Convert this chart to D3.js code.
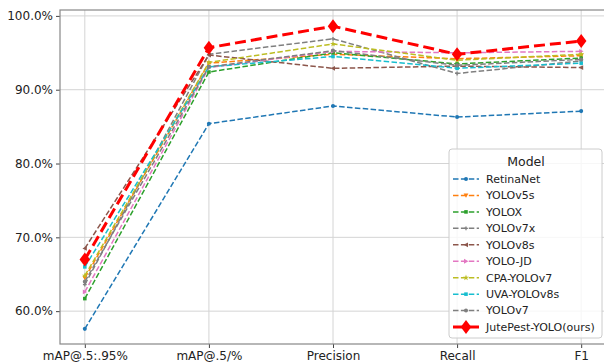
<!DOCTYPE html>
<html>
<head>
<meta charset="utf-8">
<script src="https://cdn.jsdelivr.net/npm/d3@7"></script>
<style>
  body { margin: 0; background: #fff; }
  svg { font-family: "DejaVu Sans", sans-serif; }
</style>
</head>
<body>
<svg id="chart"></svg>
<script>
var metrics = ["mAP@.5:.95%", "mAP@.5/%", "Precision", "Recall", "F1"]
var yTicks = [60, 70, 80, 90, 100]

var retinaNet  = [57.6, 85.4, 87.8, 86.3, 87.1]
var yolov5s    = [64.5, 93.6, 94.8, 94.2, 94.6]
var yolox      = [61.7, 92.4, 95.0, 93.5, 94.3]
var yolov7x    = [63.6, 94.8, 96.9, 92.2, 93.9]
var yolov8s    = [68.5, 94.7, 92.9, 93.2, 93.0]
var yoloJD     = [62.6, 93.0, 95.2, 95.0, 95.2]
var cpaYolov7  = [64.8, 93.7, 96.2, 94.0, 94.8]
var uvaYolov8s = [66.0, 93.1, 94.5, 92.9, 93.6]
var yolov7     = [64.0, 93.1, 95.3, 93.3, 94.1]
var jutePest   = [67.0, 95.7, 98.6, 94.8, 96.6]

var series = [
    {name: "RetinaNet", values: retinaNet, color: "#1f77b4", marker: "circle"},
    {name: "YOLOv5s", values: yolov5s, color: "#ff7f0e", marker: "triDown"},
    {name: "YOLOX", values: yolox, color: "#2ca02c", marker: "square"},
    {name: "YOLOv7x", values: yolov7x, color: "#7f7f7f", marker: "plus"},
    {name: "YOLOv8s", values: yolov8s, color: "#8c564b", marker: "triLeft"},
    {name: "YOLO-JD", values: yoloJD, color: "#e377c2", marker: "triRight"},
    {name: "CPA-YOLOv7", values: cpaYolov7, color: "#bcbd22", marker: "star"},
    {name: "UVA-YOLOv8s", values: uvaYolov8s, color: "#17becf", marker: "square"},
    {name: "YOLOv7", values: yolov7, color: "#7f7f7f", marker: "circle"},
    {name: "JutePest-YOLO(ours)", values: jutePest, color: "#ff0000", marker: "diamond", bold: true}
]

var dimensions = {
    width: 604,
    height: 363,
    margin: {top: 10, bottom: 19, left: 60, right: -2}
}

var svg = d3.select("#chart")
    .attr("width", dimensions.width)
    .attr("height", dimensions.height)

var plotW = dimensions.width - dimensions.margin.left - dimensions.margin.right
var xScale = d3.scaleLinear()
    .domain([-0.2, metrics.length - 1 + 0.2])
    .range([dimensions.margin.left, dimensions.width - dimensions.margin.right])
var yScale = d3.scaleLinear()
    .domain([55.55, 100.8])
    .range([dimensions.height - dimensions.margin.bottom, dimensions.margin.top])

// grid
var grid = svg.append("g")
grid.selectAll(".gx").data(metrics).enter().append("line")
    .attr("x1", (d, i) => xScale(i)).attr("x2", (d, i) => xScale(i))
    .attr("y1", yScale.range()[0]).attr("y2", yScale.range()[1])
    .attr("stroke", "#d4d4d4").attr("stroke-width", 1)
grid.selectAll(".gy").data(yTicks).enter().append("line")
    .attr("x1", xScale.range()[0]).attr("x2", xScale.range()[1])
    .attr("y1", d => yScale(d)).attr("y2", d => yScale(d))
    .attr("stroke", "#d4d4d4").attr("stroke-width", 1)

// axes
var xAxisGen = d3.axisBottom(xScale)
    .tickValues(d3.range(metrics.length))
    .tickFormat(i => metrics[i])
    .tickSize(4).tickPadding(3)
var xAxis = svg.append("g")
    .attr("transform", `translate(0, ${yScale.range()[0]})`)
    .call(xAxisGen)
var yAxisGen = d3.axisLeft(yScale)
    .tickValues(yTicks)
    .tickFormat(d => d.toFixed(1) + "%")
    .tickSize(4).tickPadding(3)
var yAxis = svg.append("g")
    .attr("transform", `translate(${dimensions.margin.left}, 0)`)
    .call(yAxisGen)
svg.selectAll(".domain").remove()
svg.selectAll(".tick line").attr("stroke", "#444")
svg.selectAll(".tick text").attr("font-size", 12).attr("fill", "#222")
    .attr("font-family", "DejaVu Sans")

svg.append("rect")
    .attr("x", xScale.range()[0]).attr("y", yScale.range()[1])
    .attr("width", xScale.range()[1] - xScale.range()[0])
    .attr("height", yScale.range()[0] - yScale.range()[1])
    .attr("fill", "none").attr("stroke", "#888").attr("stroke-width", 1.2)

function markerPath(type, size) {
    var s = size
    if (type === "circle") return d3.symbol(d3.symbolCircle, s * s * 0.8)()
    if (type === "square") return d3.symbol(d3.symbolSquare, s * s * 0.8)()
    if (type === "diamond") return `M0,${-s}L${s * 0.75},0L0,${s}L${-s * 0.75},0Z`
    if (type === "triDown") return `M${-s * 0.6},${-s * 0.5}L${s * 0.6},${-s * 0.5}L0,${s * 0.6}Z`
    if (type === "triLeft") return `M${s * 0.5},${-s * 0.6}L${s * 0.5},${s * 0.6}L${-s * 0.6},0Z`
    if (type === "triRight") return `M${-s * 0.5},${-s * 0.6}L${-s * 0.5},${s * 0.6}L${s * 0.6},0Z`
    if (type === "star") return d3.symbol(d3.symbolStar, s * s * 0.7)()
    if (type === "plus") return d3.symbol(d3.symbolCross, s * s * 0.5)()
    return d3.symbol(d3.symbolCircle, s * s)()
}

var lineGen = d3.line()
    .x((d, i) => xScale(i))
    .y(d => yScale(d))

var drawOrder = series.slice()
var lines = svg.append("g")
drawOrder.forEach(s => {
    var g = lines.append("g")
    g.append("path")
        .datum(s.values)
        .attr("d", lineGen)
        .attr("fill", "none")
        .attr("stroke", s.color)
        .attr("stroke-width", s.bold ? 3 : 1.5)
        .attr("stroke-dasharray", s.bold ? "11,5" : "5.5,2.4")
    g.selectAll("path.m").data(s.values).enter().append("path")
        .attr("class", "m")
        .attr("transform", (d, i) => `translate(${xScale(i)},${yScale(d)})`)
        .attr("d", markerPath(s.marker, s.bold ? 7 : 4))
        .attr("fill", s.color)
})

// legend
var legend = svg.append("g").attr("transform", "translate(449, 149)")
legend.append("rect")
    .attr("width", 153).attr("height", 189)
    .attr("rx", 3)
    .attr("fill", "rgba(255,255,255,0.8)")
    .attr("stroke", "#ccc")
legend.append("text")
    .attr("x", 77).attr("y", 17)
    .attr("text-anchor", "middle")
    .attr("font-size", 12.5)
    .attr("fill", "#222")
    .text("Model")
var rows = legend.selectAll(".row").data(series).enter().append("g")
    .attr("transform", (d, i) => `translate(0, ${30 + i * 16.45})`)
rows.append("line")
    .attr("x1", 4).attr("x2", 30)
    .attr("stroke", d => d.color)
    .attr("stroke-width", d => d.bold ? 3 : 1.5)
    .attr("stroke-dasharray", d => d.bold ? "11,4" : "5.5,2.4")
rows.append("path")
    .attr("transform", "translate(17,0)")
    .attr("d", d => markerPath(d.marker, d.bold ? 7 : 4))
    .attr("fill", d => d.color)
rows.append("text")
    .attr("x", 37).attr("y", 0)
    .attr("dy", "0.35em")
    .attr("font-size", 11)
    .attr("fill", "#222")
    .text(d => d.name)
</script>
</body>
</html>
